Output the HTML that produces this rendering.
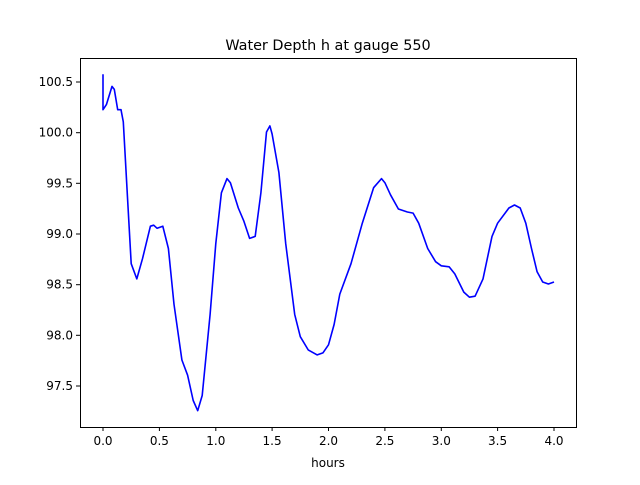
<!DOCTYPE html>
<html><head><meta charset="utf-8"><style>body{margin:0;background:#fff}</style></head><body>
<svg width="640" height="480" xmlns="http://www.w3.org/2000/svg" font-family="DejaVu Sans, Liberation Sans, sans-serif">
<rect width="640" height="480" fill="#fff"/>
<polyline fill="none" stroke="#0000ff" stroke-width="1.6" stroke-linejoin="round" points="103,74.2 103,109.7 106.4,104.6 112,86.4 114.3,89.4 117.7,109.7 121,109.7 123.3,121.9 127.8,202.9 131.2,263.7 136.8,278.9 142.5,258.7 150.4,226.2 153.7,225.2 157.1,228.3 162.8,226.2 168.4,248.5 174,304.3 181.9,360 187.6,375.2 193.2,400.5 197.7,410.7 202.2,395.5 210.1,314.4 215.8,243.5 221.4,192.8 227,178.6 230.4,182.7 238.3,208 243.9,221.2 249.6,238.4 255.2,236.4 260.9,192.8 266.5,132 269.9,125.9 272.1,134 278.9,172.5 285.7,243.5 294.7,314.4 300.3,336.7 308.2,349.9 317.2,354.9 322.9,352.9 328.5,344.8 334.1,324.5 339.8,294.1 351,263.7 362.3,223.2 373.6,187.7 381.5,178.6 384.9,182.7 390.5,194.8 398.4,209 407.4,212 413.1,213.1 418.7,223.2 427.7,248.5 435.6,261.7 441.3,265.8 449.1,266.8 454.8,273.9 463.8,292.1 469.4,297.2 475.1,296.2 483,278.9 492,236.4 497.6,223.2 508.9,208 514.5,205 520.2,208 525.8,223.2 531.5,248.5 537.1,271.8 542.7,282 548.4,284 554,282"/>
<rect x="80.5" y="58.5" width="496" height="369" fill="none" stroke="#000" stroke-width="1"/>
<g stroke="#000" stroke-width="1">
<line x1="103" y1="427" x2="103" y2="431"/><line x1="159.4" y1="427" x2="159.4" y2="431"/><line x1="215.8" y1="427" x2="215.8" y2="431"/><line x1="272.1" y1="427" x2="272.1" y2="431"/><line x1="328.5" y1="427" x2="328.5" y2="431"/><line x1="384.9" y1="427" x2="384.9" y2="431"/><line x1="441.3" y1="427" x2="441.3" y2="431"/><line x1="497.6" y1="427" x2="497.6" y2="431"/><line x1="554" y1="427" x2="554" y2="431"/>
<line x1="76" y1="386" x2="80" y2="386"/><line x1="76" y1="335.3" x2="80" y2="335.3"/><line x1="76" y1="284.7" x2="80" y2="284.7"/><line x1="76" y1="234" x2="80" y2="234"/><line x1="76" y1="183.3" x2="80" y2="183.3"/><line x1="76" y1="132.7" x2="80" y2="132.7"/><line x1="76" y1="82" x2="80" y2="82"/>
</g>
<g font-size="12" text-anchor="middle">
<text x="103" y="445">0.0</text><text x="159.4" y="445">0.5</text><text x="215.8" y="445">1.0</text><text x="272.1" y="445">1.5</text><text x="328.5" y="445">2.0</text><text x="384.9" y="445">2.5</text><text x="441.3" y="445">3.0</text><text x="497.6" y="445">3.5</text><text x="554" y="445">4.0</text>
<text x="328" y="467">hours</text>
</g>
<g font-size="12" text-anchor="end">
<text x="73" y="390">97.5</text><text x="73" y="339.3">98.0</text><text x="73" y="288.7">98.5</text><text x="73" y="238">99.0</text><text x="73" y="187.3">99.5</text><text x="73" y="136.7">100.0</text><text x="73" y="86">100.5</text>
</g>
<text x="328" y="50" font-size="14.4" text-anchor="middle">Water Depth h at gauge 550</text>
</svg>
</body></html>
